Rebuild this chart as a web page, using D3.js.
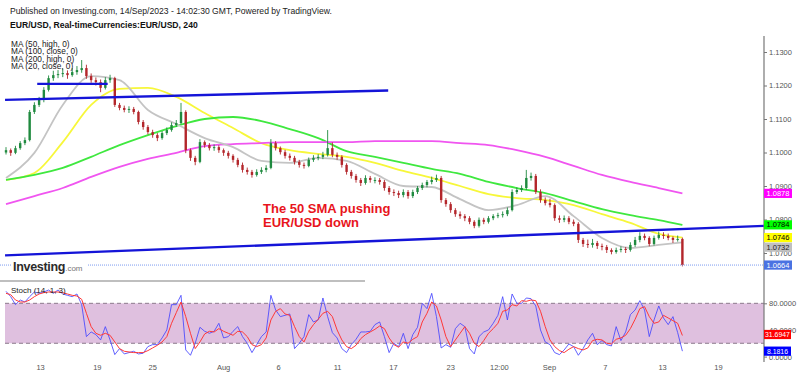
<!DOCTYPE html>
<html>
<head>
<meta charset="utf-8">
<script src="https://cdn.jsdelivr.net/npm/d3@7"></script>
<style>
body { margin: 0; background: #fff; }
text { font-family: "Liberation Sans", Arial, sans-serif; }
</style>
</head>
<body>
<div id="container"></div>
<script>
// 8h bars, EUR/USD, 10 Jul .. 14 Sep 2023
var firstOpen = 1.1000;
var closes = [1.1007,1.0999,1.1013,1.1028,1.1037,1.1121,1.1142,1.1157,1.1187,1.1222,
  1.1231,1.1234,1.1237,1.1231,1.1240,1.1246,1.1252,1.1228,1.1216,1.1210,
  1.1193,1.1216,1.1222,1.1142,1.1133,1.1127,1.1130,1.1121,1.1091,1.1076,
  1.1061,1.1052,1.1043,1.1058,1.1067,1.1082,1.1088,1.1121,1.1007,1.0984,
  1.0972,1.1031,1.1022,1.1013,1.1016,1.1007,1.0999,1.0990,1.0978,1.0963,
  1.0948,1.0942,1.0933,1.0942,1.0948,1.0954,1.1028,1.1013,1.1001,1.0990,
  1.0984,1.0972,1.0963,1.0960,1.0978,1.0984,1.0987,1.0993,1.1013,1.0993,
  1.0987,1.0963,1.0942,1.0930,1.0918,1.0909,1.0924,1.0918,1.0918,1.0912,
  1.0894,1.0882,1.0879,1.0873,1.0882,1.0870,1.0882,1.0894,1.0903,1.0912,
  1.0918,1.0924,1.0858,1.0846,1.0828,1.0816,1.0810,1.0804,1.0793,1.0781,
  1.0799,1.0793,1.0804,1.0810,1.0813,1.0816,1.0828,1.0882,1.0888,1.0894,
  1.0924,1.0930,1.0882,1.0858,1.0849,1.0843,1.0804,1.0799,1.0804,1.0793,
  1.0787,1.0739,1.0727,1.0724,1.0730,1.0721,1.0718,1.0709,1.0703,1.0709,
  1.0712,1.0709,1.0724,1.0739,1.0751,1.0745,1.0727,1.0745,1.0754,1.0751,
  1.0745,1.0739,1.0742,1.0664];
var highs = [1.1016,1.1012,1.1020,1.1034,1.1045,1.1127,1.1150,1.1166,1.1195,1.1230,
  1.1244,1.1246,1.1250,1.1245,1.1252,1.1258,1.1276,1.1262,1.1236,1.1224,
  1.1218,1.1225,1.1232,1.1226,1.1148,1.1140,1.1138,1.1136,1.1125,1.1097,
  1.1082,1.1068,1.1058,1.1064,1.1075,1.1090,1.1097,1.1148,1.1126,1.1012,
  1.0990,1.1040,1.1036,1.1028,1.1024,1.1022,1.1012,1.1005,1.0995,1.0984,
  1.0970,1.0955,1.0948,1.0950,1.0956,1.0962,1.1040,1.1034,1.1018,1.1008,
  1.0997,1.0990,1.0978,1.0970,1.0985,1.0992,1.0995,1.1002,1.1067,1.1030,
  1.1000,1.0992,1.0968,1.0948,1.0936,1.0924,1.0932,1.0930,1.0926,1.0924,
  1.0918,1.0900,1.0890,1.0886,1.0890,1.0888,1.0889,1.0900,1.0910,1.0918,
  1.0928,1.0934,1.0930,1.0864,1.0852,1.0834,1.0824,1.0816,1.0810,1.0798,
  1.0806,1.0805,1.0810,1.0816,1.0820,1.0824,1.0836,1.0890,1.0896,1.0902,
  1.0948,1.0940,1.0936,1.0890,1.0866,1.0862,1.0848,1.0812,1.0812,1.0810,
  1.0800,1.0792,1.0745,1.0740,1.0742,1.0736,1.0728,1.0724,1.0714,1.0716,
  1.0720,1.0718,1.0732,1.0748,1.0762,1.0758,1.0750,1.0752,1.0764,1.0762,
  1.0758,1.0750,1.0752,1.0746];
var lows = [1.0994,1.0990,1.0995,1.1008,1.1022,1.1033,1.1115,1.1136,1.1150,1.1182,
  1.1214,1.1222,1.1225,1.1220,1.1226,1.1232,1.1238,1.1220,1.1208,1.1200,
  1.1180,1.1188,1.1208,1.1136,1.1126,1.1120,1.1118,1.1114,1.1084,1.1068,
  1.1054,1.1044,1.1034,1.1038,1.1052,1.1062,1.1076,1.1084,1.0998,1.0975,
  1.0962,1.0968,1.1014,1.1006,1.1005,1.0999,1.0990,1.0982,1.0970,1.0956,
  1.0940,1.0934,1.0925,1.0928,1.0936,1.0941,1.0950,1.1006,1.0994,1.0982,
  1.0976,1.0964,1.0955,1.0952,1.0956,1.0972,1.0977,1.0980,1.0988,1.0986,
  1.0978,1.0955,1.0934,1.0922,1.0910,1.0900,1.0904,1.0910,1.0908,1.0904,
  1.0886,1.0874,1.0870,1.0864,1.0866,1.0862,1.0864,1.0876,1.0888,1.0896,
  1.0905,1.0912,1.0850,1.0838,1.0820,1.0808,1.0802,1.0795,1.0786,1.0774,
  1.0776,1.0786,1.0788,1.0798,1.0804,1.0806,1.0810,1.0824,1.0876,1.0882,
  1.0888,1.0916,1.0876,1.0850,1.0842,1.0836,1.0796,1.0790,1.0792,1.0786,
  1.0780,1.0730,1.0718,1.0715,1.0716,1.0712,1.0708,1.0700,1.0696,1.0698,
  1.0702,1.0700,1.0704,1.0718,1.0732,1.0738,1.0720,1.0722,1.0740,1.0742,
  1.0738,1.0730,1.0734,1.0660];

// moving averages read at every 6th bar
var maBars = [0,6,12,18,24,30,36,42,48,54,60,66,72,78,84,90,96,102,108,114,120,126,132,138,143];
var ma20close = [1.0924,1.0999,1.1142,1.1228,1.1216,1.1127,1.1085,1.1043,1.1016,1.0975,1.0969,1.0984,1.0975,1.0936,1.0900,1.0897,1.0861,1.0828,1.0843,1.0870,1.0810,1.0745,1.0715,1.0724,1.0732];
var ma50high = [1.0918,1.0939,1.1031,1.1142,1.1190,1.1193,1.1166,1.1118,1.1073,1.1028,1.1007,1.0996,1.0987,1.0969,1.0945,1.0924,1.0900,1.0876,1.0864,1.0858,1.0843,1.0816,1.0790,1.0757,1.0746];
var ma100close = [1.0918,1.0933,1.0954,1.0987,1.1022,1.1052,1.1079,1.1100,1.1106,1.1094,1.1070,1.1043,1.1004,1.0987,1.0969,1.0951,1.0936,1.0912,1.0894,1.0879,1.0855,1.0831,1.0813,1.0798,1.0784];
var ma200high = [1.0846,1.0870,1.0894,1.0927,1.0957,1.0981,1.0999,1.1019,1.1025,1.1028,1.1031,1.1031,1.1031,1.1034,1.1034,1.1034,1.1028,1.1022,1.1007,1.0987,1.0960,1.0933,1.0912,1.0894,1.0878];

// stochastic (14, 1, 3)
var stochK = [98,90,78,85,82,90,97,95,97,100,95,100,94,92,90,94,78,30,37,33,
  25,45,25,3,12,4,6,8,4,5,15,18,18,28,40,78,78,92,10,2,
  20,44,38,35,38,50,28,30,38,45,30,20,6,18,30,37,92,70,60,62,
  64,12,20,30,63,52,55,88,60,36,28,12,6,18,26,37,37,38,48,52,
  30,6,20,15,35,12,33,44,80,72,95,60,13,18,14,42,50,45,12,4,
  30,37,40,50,62,90,55,94,80,80,88,87,76,40,22,18,6,3,10,19,
  15,2,12,25,35,18,24,18,16,45,24,37,63,70,84,70,30,55,76,58,
  48,60,36,8.1816];
var stochD = [95,93,85,82,82,85,90,94,96,97,97,97,96,94,92,91,86,65,45,35,
  32,35,32,22,12,8,7,6,6,6,9,13,17,22,30,50,66,82,60,35,
  12,22,34,38,37,42,38,35,32,38,37,30,18,15,18,28,55,68,72,64,
  62,45,30,22,38,48,56,65,68,60,40,25,15,12,17,27,33,37,41,46,
  42,28,18,14,22,20,26,30,52,65,82,76,55,30,15,25,35,45,35,20,
  15,24,35,42,50,68,70,78,76,84,83,85,84,68,45,25,15,9,6,11,
  15,12,10,13,24,26,25,20,19,26,28,32,42,56,72,75,60,50,52,62,
  58,54,50,31.6947];

// hand drawn trend lines: [bar, price]
var upperTrend = [[-0.2, 1.1157], [80.8, 1.1185]];
var topTrend = [[6.6, 1.1205], [21.5, 1.1205]];
var lowerTrend = [[-0.2, 1.0693], [160.25, 1.0781]];

var tickBars = [7.2, 19.2, 30.9, 45.9, 57.5, 70, 81.8, 93.9, 104.2, 114.8, 126.6, 138.7, 150.5];
var tickLabels = ["13", "19", "25", "Aug", "6", "11", "17", "23", "12:00", "Sep", "7", "13", "19"];
var priceTicks = [1.07, 1.08, 1.09, 1.10, 1.11, 1.12, 1.13];
var stochTicks = [0, 40, 80];

var lastPrice = 1.0664;

var maSeries = [
  {name: "MA (50, high, 0)", values: ma50high, color: "#f7f73a", box: "#ffff00", text: "#000"},
  {name: "MA (100, close, 0)", values: ma100close, color: "#3fe83f", box: "#00ff00", text: "#000"},
  {name: "MA (200, high, 0)", values: ma200high, color: "#f055f0", box: "#ff00ff", text: "#fff"},
  {name: "MA (20, close, 0)", values: ma20close, color: "#c4c4c4", box: "#c0c0c0", text: "#222"}
];

var width = 800, height = 376, axisX = 764;

var x = d3.scaleLinear().domain([0, 160.25]).range([6, axisX]);
var y = d3.scaleLinear().domain([1.07, 1.13]).range([253, 52]);
var ys = d3.scaleLinear().domain([0, 100]).range([356.6, 290]);

var svg = d3.select("#container").append("svg")
    .attr("width", width)
    .attr("height", height);

svg.append("rect").attr("width", width).attr("height", height).attr("fill", "#fff");

// header
svg.append("text").attr("x", 10).attr("y", 14).attr("font-size", 8.6).attr("fill", "#222")
    .text("Published on Investing.com, 14/Sep/2023 - 14:02:30 GMT, Powered by TradingView.");
svg.append("text").attr("x", 10).attr("y", 27.5).attr("font-size", 8.6).attr("font-weight", "bold").attr("fill", "#111")
    .text("EUR/USD, Real-timeCurrencies:EUR/USD, 240");

// ---- price panel
var maLine = d3.line()
    .x(function(d, i) { return x(maBars[i]); })
    .y(function(d) { return y(d); })
    .curve(d3.curveMonotoneX);

svg.selectAll(".ma")
    .data(maSeries)
  .enter().append("path")
    .attr("class", "ma")
    .attr("d", function(s) { return maLine(s.values); })
    .attr("fill", "none")
    .attr("stroke", function(s) { return s.color; })
    .attr("stroke-width", 1.8);

var bars = closes.map(function(c, i) {
  return {i: i, o: i ? closes[i - 1] : firstOpen, h: highs[i], l: lows[i], c: c};
});

var candle = svg.selectAll(".candle")
    .data(bars)
  .enter().append("g")
    .attr("class", "candle")
    .attr("fill", function(d) { return d.c >= d.o ? "#1f8a3f" : "#b3262b"; })
    .attr("stroke", function(d) { return d.c >= d.o ? "#1f8a3f" : "#b3262b"; });

candle.append("line")
    .attr("x1", function(d) { return x(d.i); })
    .attr("x2", function(d) { return x(d.i); })
    .attr("y1", function(d) { return y(d.h); })
    .attr("y2", function(d) { return y(d.l); })
    .attr("stroke-width", 0.9);

candle.append("rect")
    .attr("x", function(d) { return x(d.i) - 1.2; })
    .attr("width", 2.4)
    .attr("y", function(d) { return y(Math.max(d.o, d.c)); })
    .attr("height", function(d) { return Math.max(1, Math.abs(y(d.o) - y(d.c))); })
    .attr("stroke", "none");

// trend lines
var trendLine = d3.line()
    .x(function(d) { return x(d[0]); })
    .y(function(d) { return y(d[1]); });

svg.selectAll(".trend")
    .data([upperTrend, topTrend, lowerTrend])
  .enter().append("path")
    .attr("class", "trend")
    .attr("d", trendLine)
    .attr("fill", "none")
    .attr("stroke", "#1414d8")
    .attr("stroke-width", 2.4);

// last price dotted line
svg.append("line")
    .attr("x1", 0).attr("x2", axisX)
    .attr("y1", y(lastPrice)).attr("y2", y(lastPrice))
    .attr("stroke", "#7d9cf0")
    .attr("stroke-dasharray", "1,1");

// legend
svg.selectAll(".legend")
    .data(maSeries)
  .enter().append("text")
    .attr("class", "legend")
    .attr("x", 11)
    .attr("y", function(d, i) { return 46.5 + i * 7.5; })
    .attr("font-size", 8.3)
    .attr("fill", "#222")
    .text(function(d) { return d.name; });

// annotation
var note = svg.append("text").attr("font-size", 13).attr("font-weight", "bold").attr("fill", "#e8141c");
note.append("tspan").attr("x", 263).attr("y", 212.5).text("The 50 SMA pushing");
note.append("tspan").attr("x", 263).attr("y", 226.5).text("EUR/USD down");

// logo
svg.append("rect").attr("x", 12).attr("y", 258).attr("width", 76).attr("height", 15).attr("fill", "#fff");
var logo = svg.append("text").attr("x", 13).attr("y", 270.5);
logo.append("tspan").attr("font-size", 12.5).attr("font-weight", "bold").attr("fill", "#2b2b2b").attr("letter-spacing", -0.3).text("Investing");
logo.append("tspan").attr("font-size", 8).attr("fill", "#777").text(".com");

svg.append("line")
    .attr("x1", 0).attr("x2", 365).attr("y1", 281).attr("y2", 281)
    .attr("stroke", "#aaa").attr("stroke-width", 1.5);

// price axis
var yAxis = d3.axisRight(y)
    .tickValues(priceTicks)
    .tickSize(3)
    .tickFormat(d3.format(".4f"));

var gy = svg.append("g")
    .attr("transform", "translate(" + axisX + ",0)")
    .call(yAxis);
gy.select(".domain").remove();
gy.selectAll("line").attr("stroke", "#777");
gy.selectAll("text").attr("font-size", 7.5).attr("fill", "#555").attr("x", 5);

// ---- stochastic panel
svg.append("rect")
    .attr("x", 5).attr("width", axisX - 5)
    .attr("y", ys(80)).attr("height", ys(20) - ys(80))
    .attr("fill", "#dfc0df");

svg.selectAll(".band")
    .data([80, 20])
  .enter().append("line")
    .attr("class", "band")
    .attr("x1", 5).attr("x2", axisX)
    .attr("y1", function(d) { return ys(d); })
    .attr("y2", function(d) { return ys(d); })
    .attr("stroke", "#8c7a8c")
    .attr("stroke-dasharray", "4,3");

var stochLine = d3.line()
    .x(function(d, i) { return x(i); })
    .y(function(d) { return ys(d); });

svg.append("path").datum(stochK)
    .attr("d", stochLine)
    .attr("fill", "none")
    .attr("stroke", "#4646ff")
    .attr("stroke-opacity", 0.85)
    .attr("stroke-width", 1);

svg.append("path").datum(stochD)
    .attr("d", stochLine)
    .attr("fill", "none")
    .attr("stroke", "#ff3838")
    .attr("stroke-width", 1);

svg.append("text").attr("x", 11).attr("y", 292.5).attr("font-size", 8).attr("fill", "#222").text("Stoch (14, 1, 3)");

var sAxis = d3.axisRight(ys)
    .tickValues(stochTicks)
    .tickSize(3)
    .tickFormat(d3.format(".4f"));

var gs = svg.append("g")
    .attr("transform", "translate(" + axisX + ",0)")
    .call(sAxis);
gs.select(".domain").remove();
gs.selectAll("line").attr("stroke", "#777");
gs.selectAll("text").attr("font-size", 7.5).attr("fill", "#555").attr("x", 5);

// vertical axis line
svg.append("line")
    .attr("x1", axisX).attr("x2", axisX).attr("y1", 36).attr("y2", 362)
    .attr("stroke", "#777").attr("stroke-width", 1.2);

// time axis
var xAxis = d3.axisBottom(x)
    .tickValues(tickBars)
    .tickSize(0)
    .tickFormat(function(d, i) { return tickLabels[i]; });

var gx = svg.append("g")
    .attr("transform", "translate(0,362)")
    .call(xAxis);
gx.select(".domain").remove();
gx.selectAll("text").attr("font-size", 7.5).attr("fill", "#555").attr("dy", "0.8em").attr("y", 1.5);

// value boxes on the right
function valueBox(val, cy, fill, color, w, fs) {
  var g = svg.append("g").attr("transform", "translate(" + axisX + "," + cy + ")");
  g.append("rect").attr("x", 0).attr("y", -4.6).attr("width", w).attr("height", 9.2).attr("fill", fill);
  g.append("text").attr("x", w / 2).attr("y", 0).attr("dy", "0.35em")
      .attr("text-anchor", "middle").attr("font-size", fs).attr("fill", color)
      .text(d3.format(".4f")(val));
}

var boxes = maSeries.map(function(s) {
  var v = s.values[s.values.length - 1];
  return {v: v, cy: y(v), fill: s.box, color: s.text};
}).sort(function(a, b) { return a.cy - b.cy; });
for (var k = 1; k < boxes.length; k++) {
  if (boxes[k].cy < boxes[k - 1].cy + 9.6) boxes[k].cy = boxes[k - 1].cy + 9.6;
}
boxes.forEach(function(b) { valueBox(b.v, b.cy, b.fill, b.color, 28, 7.5); });
valueBox(lastPrice, y(lastPrice), "#4a72e2", "#fff", 28, 7.5);

valueBox(stochD[stochD.length - 1], ys(stochD[stochD.length - 1]) - 1, "#ff0000", "#fff", 27, 6.9);
valueBox(stochK[stochK.length - 1], ys(stochK[stochK.length - 1]), "#0000ff", "#fff", 27, 6.9);
</script>
</body>
</html>
